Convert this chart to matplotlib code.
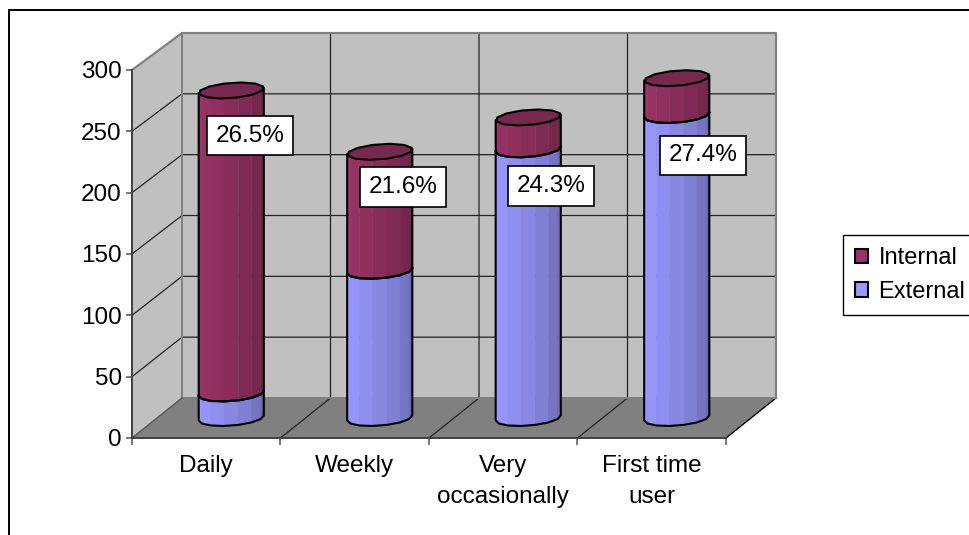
#!/usr/bin/env python3
import numpy as np
import matplotlib
matplotlib.use("Agg")
import matplotlib.pyplot as plt
from matplotlib.patches import Rectangle, Patch
from matplotlib.colors import to_rgb

plt.rcParams['font.family'] = ['Liberation Sans', 'DejaVu Sans']

categories = ['Daily', 'Weekly', 'Very\noccasionally', 'First time\nuser']
external = [20, 120, 219, 247]
internal = [247, 97, 26, 30]
percent = ['26.5%', '21.6%', '24.3%', '27.4%']
yticks = [0, 50, 100, 150, 200, 250, 300]

# where the boxes sit, in axis units
label_x = [0.795, 1.825, 2.822, 3.845]
label_y = [246.6, 204.6, 205.4, 230.3]

W, H = 970, 535
FS = 17.5

# depth of the 3d box in axis units (50 px across, 40 px up)
DX = 50 / 148.5
DY = 40 / (368 / 300)
BACK = 365 / 368  # back wall is a little shorter than the front
RX = 31 / 148.5   # cylinder radius across
RD = 0.2          # cylinder radius in depth


def proj(x, v, d):
    return np.asarray(x) + np.asarray(d) * DX, np.asarray(v) + np.asarray(d) * DY


def ring(i, v, theta):
    return proj(i + 0.5 + RX * np.cos(theta), v, 0.5 + RD * np.sin(theta))


def shade(col, f):
    return tuple(c * (1 - 0.3 * f) for c in to_rgb(col))


def cylinder(ax, i, v0, v1, col, z):
    th_r = np.arctan2(RD * DX, RX)
    edges = np.linspace(th_r, th_r - np.pi, 8)
    # strips from the left (lit) to the right (dark)
    for k in range(7):
        a, b = edges[7 - k], edges[6 - k]
        xa, ya0 = ring(i, v0, a)
        xb, yb0 = ring(i, v0, b)
        _, ya1 = ring(i, v1, a)
        _, yb1 = ring(i, v1, b)
        c = shade(col, (k / 6) ** 1.4)
        ax.fill([xa, xb, xb, xa], [ya0, yb0, yb1, ya1], color=c, lw=0.3,
                zorder=z, clip_on=False)
    x0, y0 = ring(i, v0, edges)
    x1, y1 = ring(i, v1, edges)
    ax.plot(np.r_[x1[0], x0, x1[-1]], np.r_[y1[0], y0, y1[-1]], color='black',
            lw=1.5, zorder=z + 0.5, clip_on=False)


def top_face(ax, i, v, col, z):
    th = np.linspace(0, 2 * np.pi, 13)
    x, y = ring(i, v, th)
    ax.fill(x, y, facecolor=shade(col, 0.75), edgecolor='black', lw=1.5,
            zorder=z, clip_on=False)


fig = plt.figure(figsize=(W / 100, H / 100), dpi=100)
ax = fig.add_axes([132 / W, 1 - 438 / H, 594 / W, 368 / H])
ax.set_xlim(0, 4)
ax.set_ylim(0, 300)
ax.patch.set_visible(False)

# outer frame runs off the bottom and right of the picture
fig.add_artist(Rectangle((9.5 / W, -0.05), 2, 1.05 - 9.5 / H, transform=fig.transFigure,
                         facecolor='white', edgecolor='black', lw=1.4, zorder=-5))

n = len(categories)
wall = '#c0c0c0'
floor = '#808080'
edge = '#808080'
top = 300 * BACK + DY

# back wall, side wall, floor
ax.fill([DX, n + DX, n + DX, DX], [DY, DY, top, top], color=wall, lw=0, zorder=1, clip_on=False)
ax.fill([0, DX, DX, 0], [0, DY, top, 300], color=wall, lw=0, zorder=1, clip_on=False)
ax.fill([0, n, n + DX, DX], [0, 0, DY, DY], color=floor, lw=0, zorder=1, clip_on=False)

for v in yticks[1:-1]:
    ax.plot([0, DX, n + DX], [v, v * BACK + DY, v * BACK + DY], color='#222222', lw=0.9, zorder=2, clip_on=False)
for k in range(1, n):
    ax.plot([k, k + DX, k + DX], [0, DY, top], color='#222222', lw=0.9, zorder=2, clip_on=False)
ax.plot([n, n + DX], [0, DY], color='black', lw=1, zorder=2, clip_on=False)

# wall outlines
ax.plot([0, DX, n + DX, n + DX], [300, top, top, DY], color=edge, lw=1.6, zorder=2, clip_on=False)
ax.plot([DX, DX, n + DX], [top, DY, DY], color=edge, lw=1.4, zorder=2, clip_on=False)
ax.plot([0, DX], [0, DY], color='#555555', lw=1, zorder=2, clip_on=False)

c_int = '#993366'
c_ext = '#9999ff'
for i in range(n):
    z = 3 + i
    cylinder(ax, i, 0, external[i], c_ext, z)
    cylinder(ax, i, external[i], external[i] + internal[i], c_int, z + 0.1)
    # boundary between the two parts goes on top of the strips
    th_r = np.arctan2(RD * DX, RX)
    th = np.linspace(th_r, th_r - np.pi, 8)
    ax.plot(*ring(i, external[i], th), color='black', lw=1.5, zorder=z + 0.7, clip_on=False)
    top_face(ax, i, external[i] + internal[i], c_int, z + 0.8)
    ax.text(label_x[i], label_y[i], percent[i], fontsize=FS, ha='center', va='center', zorder=20,
            bbox=dict(boxstyle='square,pad=0.37', facecolor='white', edgecolor='black', lw=1.2))

for s in ('top', 'right'):
    ax.spines[s].set_visible(False)
for s in ('left', 'bottom'):
    ax.spines[s].set_color('#404040')
    ax.spines[s].set_linewidth(1.4)
    ax.spines[s].set_zorder(2.5)

ax.set_yticks(yticks)
ax.set_xticks(range(n + 1))
ax.set_xticklabels([])
ax.set_xticks(np.arange(n) + 0.5, minor=True)
ax.set_xticklabels(categories, minor=True, linespacing=1.55)
ax.tick_params(axis='x', which='major', length=5, color='#606060', width=1.2)
ax.tick_params(axis='x', which='minor', length=0, pad=12, labelsize=FS)
ax.tick_params(axis='y', length=4.3, color='#606060', width=1.2, pad=3, labelsize=FS)

handles = [Patch(facecolor=c_int, edgecolor='black', lw=1.5, label='Internal'),
           Patch(facecolor=c_ext, edgecolor='black', lw=1.5, label='External')]
fig.legend(handles=handles, loc='center left', bbox_to_anchor=(843 / W, 1 - 275 / H),
           fontsize=17, frameon=True, fancybox=False, edgecolor='black', framealpha=1,
           handlelength=0.55, handleheight=0.55, handletextpad=0.45, borderpad=0.5,
           labelspacing=0.5, borderaxespad=0)

fig.savefig('out.png', dpi=100)
